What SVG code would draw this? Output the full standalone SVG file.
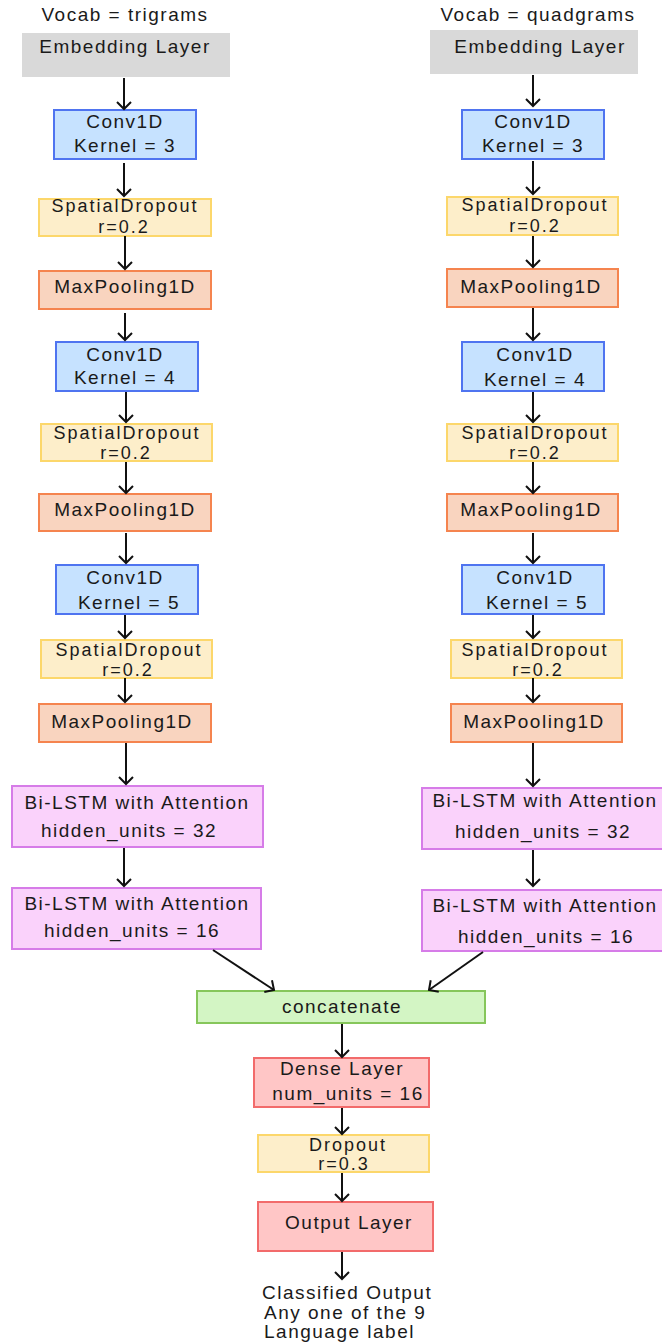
<svg xmlns="http://www.w3.org/2000/svg" width="662" height="1344" viewBox="0 0 662 1344">
  <defs>
    <marker id="arrow" markerUnits="userSpaceOnUse" markerWidth="18" markerHeight="18" viewBox="-9 -9 18 18" refX="0" refY="0" orient="auto">
      <path d="M-7,-7 L0,0 L-7,7" fill="none" stroke="#111" stroke-width="2"/>
    </marker>
    <style>
      text { font-family: "Liberation Sans", Arial, sans-serif; font-size: 19px; letter-spacing: 1.5px; fill: #1a1a1a; }
      .c { text-anchor: middle; }
      .s { font-size: 18px; letter-spacing: 2px; }
      rect { stroke-width: 2; }
      .embed { fill: #d9d9d9; stroke: none; }
      .conv { fill: #c6e2ff; stroke: #4f74f0; }
      .drop { fill: #fdeeca; stroke: #fcd76b; }
      .pool { fill: #f9d4bf; stroke: #f5844f; }
      .lstm { fill: #fad2fb; stroke: #d67ce8; }
      .concat { fill: #d3f5c4; stroke: #86c65b; }
      .dense { fill: #ffc6c6; stroke: #f26b6b; }
      .edge { stroke: #111; stroke-width: 2; fill: none; marker-end: url(#arrow); }
    </style>
  </defs>
  <rect width="662" height="1344" fill="#ffffff"/>

  <!-- column titles -->
  <text class="c" x="125" y="21">Vocab = trigrams</text>
  <text class="c" x="538" y="21">Vocab = quadgrams</text>

  <!-- left branch: trigrams -->
  <g id="l-embed"><rect class="embed" x="22" y="33" width="208" height="44"/><text class="c" x="125" y="53">Embedding Layer</text></g>
  <g id="l-conv3"><rect class="conv" x="54" y="110" width="142" height="49"/><text class="c" x="125" y="128">Conv1D</text><text class="c" x="125" y="152">Kernel = 3</text></g>
  <g id="l-drop1"><rect class="drop" x="39" y="199" width="172" height="37"/><text class="c s" x="125" y="212">SpatialDropout</text><text class="c s" x="124" y="233">r=0.2</text></g>
  <g id="l-pool1"><rect class="pool" x="39" y="271" width="172" height="38"/><text class="c" x="125" y="293">MaxPooling1D</text></g>
  <g id="l-conv4"><rect class="conv" x="56" y="342" width="142" height="49"/><text class="c" x="125" y="361">Conv1D</text><text class="c" x="125" y="384">Kernel = 4</text></g>
  <g id="l-drop2"><rect class="drop" x="41" y="424" width="171" height="37"/><text class="c s" x="127" y="439">SpatialDropout</text><text class="c s" x="126" y="459">r=0.2</text></g>
  <g id="l-pool2"><rect class="pool" x="39" y="494" width="172" height="37"/><text class="c" x="125" y="516">MaxPooling1D</text></g>
  <g id="l-conv5"><rect class="conv" x="56" y="565" width="142" height="49"/><text class="c" x="125" y="584">Conv1D</text><text class="c" x="129" y="609">Kernel = 5</text></g>
  <g id="l-drop3"><rect class="drop" x="41" y="640" width="171" height="38"/><text class="c s" x="129" y="656">SpatialDropout</text><text class="c s" x="128" y="676">r=0.2</text></g>
  <g id="l-pool3"><rect class="pool" x="39" y="704" width="172" height="38"/><text class="c" x="122" y="728">MaxPooling1D</text></g>
  <g id="l-lstm32"><rect class="lstm" x="12" y="786" width="251" height="61"/><text class="c" x="137" y="809">Bi-LSTM with Attention</text><text class="c" x="129" y="837">hidden_units = 32</text></g>
  <g id="l-lstm16"><rect class="lstm" x="12" y="888" width="249" height="61"/><text class="c" x="137" y="910">Bi-LSTM with Attention</text><text class="c" x="132" y="937">hidden_units = 16</text></g>

  <!-- right branch: quadgrams -->
  <g id="r-embed"><rect class="embed" x="430" y="30" width="208" height="44"/><text class="c" x="540" y="53">Embedding Layer</text></g>
  <g id="r-conv3"><rect class="conv" x="462" y="110" width="142" height="49"/><text class="c" x="533" y="128">Conv1D</text><text class="c" x="533" y="152">Kernel = 3</text></g>
  <g id="r-drop1"><rect class="drop" x="447" y="197" width="171" height="38"/><text class="c s" x="535" y="211">SpatialDropout</text><text class="c s" x="535" y="232">r=0.2</text></g>
  <g id="r-pool1"><rect class="pool" x="447" y="269" width="171" height="38"/><text class="c" x="531" y="293">MaxPooling1D</text></g>
  <g id="r-conv4"><rect class="conv" x="462" y="342" width="142" height="49"/><text class="c" x="535" y="361">Conv1D</text><text class="c" x="535" y="386">Kernel = 4</text></g>
  <g id="r-drop2"><rect class="drop" x="447" y="424" width="171" height="37"/><text class="c s" x="535" y="439">SpatialDropout</text><text class="c s" x="535" y="459">r=0.2</text></g>
  <g id="r-pool2"><rect class="pool" x="447" y="494" width="171" height="37"/><text class="c" x="531" y="516">MaxPooling1D</text></g>
  <g id="r-conv5"><rect class="conv" x="462" y="565" width="142" height="49"/><text class="c" x="535" y="584">Conv1D</text><text class="c" x="537" y="609">Kernel = 5</text></g>
  <g id="r-drop3"><rect class="drop" x="451" y="640" width="171" height="38"/><text class="c s" x="535" y="656">SpatialDropout</text><text class="c s" x="538" y="676">r=0.2</text></g>
  <g id="r-pool3"><rect class="pool" x="451" y="704" width="171" height="38"/><text class="c" x="534" y="728">MaxPooling1D</text></g>
  <g id="r-lstm32"><rect class="lstm" x="422" y="788" width="242" height="61"/><text class="c" x="545" y="807">Bi-LSTM with Attention</text><text class="c" x="543" y="838">hidden_units = 32</text></g>
  <g id="r-lstm16"><rect class="lstm" x="422" y="890" width="242" height="61"/><text class="c" x="545" y="912">Bi-LSTM with Attention</text><text class="c" x="546" y="943">hidden_units = 16</text></g>

  <!-- merged head -->
  <g id="concat"><rect class="concat" x="197" y="991" width="288" height="32"/><text class="c" x="342" y="1013">concatenate</text></g>
  <g id="dense"><rect class="dense" x="254" y="1058" width="175" height="49"/><text class="c" x="342" y="1075">Dense Layer</text><text class="c" x="348" y="1100">num_units = 16</text></g>
  <g id="dropout"><rect class="drop" x="258" y="1135" width="171" height="37"/><text class="c s" x="348" y="1151">Dropout</text><text class="c s" x="344" y="1170">r=0.3</text></g>
  <g id="output"><rect class="dense" x="258" y="1202" width="175" height="49"/><text class="c" x="349" y="1229">Output Layer</text></g>
  <g id="result">
    <text x="262" y="1299">Classified Output</text>
    <text x="264" y="1319">Any one of the 9</text>
    <text x="264" y="1338">Language label</text>
  </g>

  <!-- connectors -->
  <g id="connectors">
    <line class="edge" x1="124" y1="78" x2="124" y2="109"/>
    <line class="edge" x1="124" y1="163" x2="124" y2="196"/>
    <line class="edge" x1="125" y1="236" x2="125" y2="269"/>
    <line class="edge" x1="125" y1="313" x2="125" y2="340"/>
    <line class="edge" x1="126" y1="392" x2="126" y2="422"/>
    <line class="edge" x1="126" y1="462" x2="126" y2="493"/>
    <line class="edge" x1="126" y1="533" x2="126" y2="563"/>
    <line class="edge" x1="125" y1="615" x2="125" y2="638"/>
    <line class="edge" x1="125" y1="678" x2="125" y2="702"/>
    <line class="edge" x1="126" y1="743" x2="126" y2="784"/>
    <line class="edge" x1="124" y1="848" x2="124" y2="886"/>
    <line class="edge" x1="213" y1="950" x2="274" y2="990"/>

    <line class="edge" x1="533" y1="75" x2="533" y2="106"/>
    <line class="edge" x1="533" y1="161" x2="533" y2="194"/>
    <line class="edge" x1="533" y1="236" x2="533" y2="267"/>
    <line class="edge" x1="533" y1="308" x2="533" y2="340"/>
    <line class="edge" x1="533" y1="392" x2="533" y2="422"/>
    <line class="edge" x1="533" y1="462" x2="533" y2="493"/>
    <line class="edge" x1="533" y1="533" x2="533" y2="563"/>
    <line class="edge" x1="533" y1="615" x2="533" y2="638"/>
    <line class="edge" x1="533" y1="678" x2="533" y2="702"/>
    <line class="edge" x1="533" y1="743" x2="533" y2="786"/>
    <line class="edge" x1="533" y1="850" x2="533" y2="886"/>
    <line class="edge" x1="483" y1="952" x2="429" y2="990"/>

    <line class="edge" x1="342" y1="1024" x2="342" y2="1057"/>
    <line class="edge" x1="342" y1="1108" x2="342" y2="1134"/>
    <line class="edge" x1="342" y1="1173" x2="342" y2="1201"/>
    <line class="edge" x1="342" y1="1252" x2="342" y2="1279"/>
  </g>
</svg>
